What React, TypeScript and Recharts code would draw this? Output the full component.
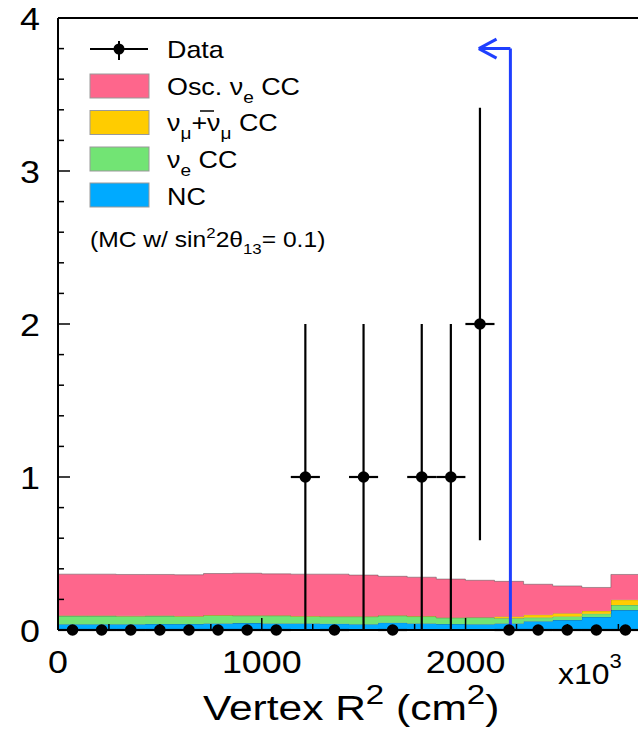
import { ComposedChart, Area, Scatter, ErrorBar, XAxis, YAxis, ReferenceLine } from 'recharts';

const FONT = '"Liberation Sans", Arial, Helvetica, sans-serif';

// histogram binning: R^2 from 0 to 2856 (x10^3 cm^2), 20 bins
const N_BINS = 20;
const R2_MAX = 2856;
const BIN_W = R2_MAX / N_BINS;

// stacked MC components per bin (bottom to top)
const nc = [0.038, 0.038, 0.038, 0.039, 0.039, 0.043, 0.045, 0.043, 0.043, 0.041, 0.038, 0.048, 0.043, 0.039, 0.038, 0.043, 0.058, 0.065, 0.085, 0.130];
const nueCC = [0.053, 0.053, 0.052, 0.052, 0.050, 0.052, 0.048, 0.050, 0.046, 0.046, 0.049, 0.045, 0.045, 0.040, 0.043, 0.033, 0.023, 0.024, 0.022, 0.033];
const numuCC = [0.003, 0.003, 0.003, 0.003, 0.003, 0.003, 0.003, 0.003, 0.003, 0.003, 0.003, 0.003, 0.003, 0.003, 0.003, 0.012, 0.019, 0.021, 0.018, 0.035];
const oscNue = [0.271, 0.271, 0.270, 0.269, 0.269, 0.271, 0.275, 0.271, 0.273, 0.275, 0.269, 0.255, 0.254, 0.251, 0.241, 0.230, 0.199, 0.178, 0.153, 0.165];

// observed events per bin
const dataCounts = [0, 0, 0, 0, 0, 0, 0, 0, 1, 0, 1, 0, 1, 1, 2, 0, 0, 0, 0, 0];
const dataErrY = [0, 0, 0, 0, 0, 0, 0, 0, 1, 0, 1, 0, 1, 1, 1.414, 0, 0, 0, 0, 0];

const X_TICKS = [0, 250, 500, 750, 1000, 1250, 1500, 1750, 2000, 2250, 2500, 2750];
const Y_TICKS = [0, 0.2, 0.4, 0.6, 0.8, 1, 1.2, 1.4, 1.6, 1.8, 2, 2.2, 2.4, 2.6, 2.8, 3, 3.2, 3.4, 3.6, 3.8, 4];

// fiducial volume cut arrow
const FV_CUT = 2220;
const ARROW_Y = 3.8;
const ARROW_TIP = 2065;

const PINK = '#fe668c';
const YELLOW = '#ffcc00';
const GREEN = '#72e474';
const BLUE = '#00aaff';
const ARROW_BLUE = '#1f3fff';

const edgeRows = Array.from({ length: N_BINS + 1 }, (_, i) => {
  const b = Math.min(i, N_BINS - 1);
  return { x: i * BIN_W, nc: nc[b], nue: nueCC[b], numu: numuCC[b], osc: oscNue[b] };
});

const dataRows = dataCounts.map((n, i) => ({
  x: (i + 0.5) * BIN_W,
  y: n,
  ex: BIN_W / 2,
  ey: dataErrY[i],
}));

function YTick(props: any) {
  const { x, y, payload } = props;
  const v = payload.value;
  const major = Math.abs(v - Math.round(v)) < 1e-6;
  return (
    <g>
      <line x1={x} x2={x + (major ? 12 : 6)} y1={y} y2={y} stroke="#000" strokeWidth={1.5} />
      {major && (
        <text transform={`translate(${x - 18},${y + 11.5}) scale(1.12,1)`} textAnchor="end" fontSize={32} fontFamily={FONT} fill="#000">
          {Math.round(v)}
        </text>
      )}
    </g>
  );
}

function XTick(props: any) {
  const { x, y, payload } = props;
  const v = payload.value;
  const major = v % 1000 === 0;
  return (
    <g>
      <line x1={x} x2={x} y1={y} y2={y - (major ? 12 : 6)} stroke="#000" strokeWidth={1.5} />
      {major && (
        <text transform={`translate(${x},${y + 43}) scale(1.12,1)`} textAnchor="middle" fontSize={32} fontFamily={FONT} fill="#000">
          {v}
        </text>
      )}
    </g>
  );
}

const dot = (p: any) => <circle cx={p.cx} cy={p.cy} r={5.8} fill="#000" />;

function Overlay() {
  const boxes = [
    { y: 74, c: PINK },
    { y: 110.5, c: YELLOW },
    { y: 147, c: GREEN },
    { y: 183, c: BLUE },
  ];
  const t = (x: number, y: number, s = 1.12) => `translate(${x},${y}) scale(${s},1)`;
  return (
    <svg width={638} height={730} style={{ position: 'absolute', left: 0, top: 0, pointerEvents: 'none' }} fontFamily={FONT}>
      {/* legend */}
      <line x1={90} x2={148} y1={49} y2={49} stroke="#000" strokeWidth={2} />
      <line x1={119} x2={119} y1={41} y2={60} stroke="#000" strokeWidth={2} />
      <circle cx={119} cy={49} r={5.5} fill="#000" />
      {boxes.map((b) => (
        <rect key={b.c} x={90} y={b.y} width={59} height={24} fill={b.c} stroke="#999" strokeWidth={1} />
      ))}
      <text transform={t(167, 58)} fontSize={24}>Data</text>
      <text transform={t(167, 94.7)} fontSize={24}>
        Osc. ν<tspan dy={8} fontSize={17}>e</tspan>
        <tspan dy={-8}> CC</tspan>
      </text>
      <text transform={t(167, 131)} fontSize={24}>
        ν<tspan dy={8} fontSize={17}>μ</tspan>
        <tspan dy={-8}>+</tspan>
        <tspan>ν</tspan>
        <tspan dy={8} fontSize={17}>μ</tspan>
        <tspan dy={-8}> CC</tspan>
      </text>
      <line x1={200} x2={214} y1={111} y2={111} stroke="#000" strokeWidth={1.5} />
      <text transform={t(167, 168)} fontSize={24}>
        ν<tspan dy={8} fontSize={17}>e</tspan>
        <tspan dy={-8}> CC</tspan>
      </text>
      <text transform={t(167, 205)} fontSize={24}>NC</text>
      <text transform={t(90, 247)} fontSize={22}>
        (MC w/ sin<tspan dy={-9} fontSize={15}>2</tspan>
        <tspan dy={9}>2θ</tspan>
        <tspan dy={7} fontSize={15}>13</tspan>
        <tspan dy={-7}>= 0.1)</tspan>
      </text>
      {/* axis scale and title */}
      <text transform={t(558, 684, 1.1)} fontSize={29}>
        x10<tspan dy={-16} fontSize={20}>3</tspan>
      </text>
      <text transform={t(203, 720, 1.18)} fontSize={36}>
        Vertex R<tspan dy={-16} fontSize={28}>2</tspan>
        <tspan dy={16}> (cm</tspan>
        <tspan dy={-16} fontSize={28}>2</tspan>
        <tspan dy={16}>)</tspan>
      </text>
    </svg>
  );
}

export default function App() {
  return (
    <div style={{ position: 'fixed', left: 0, top: 0, width: 638, height: 730, overflow: 'hidden', background: '#fff' }}>
      <ComposedChart width={645} height={730} data={edgeRows} margin={{ top: 18, right: 5, bottom: 0, left: 0 }}>
        <XAxis
          type="number"
          dataKey="x"
          domain={[0, R2_MAX]}
          ticks={X_TICKS}
          interval={0}
          height={100}
          tickSize={0}
          tickMargin={0}
          tickLine={false}
          axisLine={{ stroke: '#000', strokeWidth: 2 }}
          tick={XTick}
        />
        <YAxis
          type="number"
          dataKey="y"
          domain={[0, 4]}
          ticks={Y_TICKS}
          interval={0}
          width={58}
          tickSize={0}
          tickMargin={0}
          tickLine={false}
          axisLine={{ stroke: '#000', strokeWidth: 2 }}
          tick={YTick}
        />
        <Area type="stepAfter" dataKey="nc" stackId="mc" fill={BLUE} fillOpacity={1} stroke="#444" strokeOpacity={0.5} strokeWidth={1} isAnimationActive={false} />
        <Area type="stepAfter" dataKey="nue" stackId="mc" fill={GREEN} fillOpacity={1} stroke="#444" strokeOpacity={0.4} strokeWidth={1} isAnimationActive={false} />
        <Area type="stepAfter" dataKey="numu" stackId="mc" fill={YELLOW} fillOpacity={1} stroke="#444" strokeOpacity={0.4} strokeWidth={1} isAnimationActive={false} />
        <Area type="stepAfter" dataKey="osc" stackId="mc" fill={PINK} fillOpacity={1} stroke="#555" strokeOpacity={0.5} strokeWidth={1} isAnimationActive={false} />
        <ReferenceLine y={4} stroke="#000" strokeWidth={2} />
        <ReferenceLine segment={[{ x: FV_CUT, y: 0 }, { x: FV_CUT, y: ARROW_Y }]} stroke={ARROW_BLUE} strokeWidth={3} />
        <ReferenceLine segment={[{ x: FV_CUT, y: ARROW_Y }, { x: ARROW_TIP, y: ARROW_Y }]} stroke={ARROW_BLUE} strokeWidth={3} />
        <ReferenceLine segment={[{ x: ARROW_TIP, y: ARROW_Y }, { x: ARROW_TIP + 87, y: ARROW_Y + 0.062 }]} stroke={ARROW_BLUE} strokeWidth={3} />
        <ReferenceLine segment={[{ x: ARROW_TIP, y: ARROW_Y }, { x: ARROW_TIP + 87, y: ARROW_Y - 0.062 }]} stroke={ARROW_BLUE} strokeWidth={3} />
        <Scatter data={dataRows} dataKey="y" fill="#000" shape={dot} isAnimationActive={false}>
          <ErrorBar dataKey="ey" direction="y" width={0} stroke="#000" strokeWidth={2.2} isAnimationActive={false} />
          <ErrorBar dataKey="ex" direction="x" width={0} stroke="#000" strokeWidth={2.2} isAnimationActive={false} />
        </Scatter>
      </ComposedChart>
      <Overlay />
    </div>
  );
}
